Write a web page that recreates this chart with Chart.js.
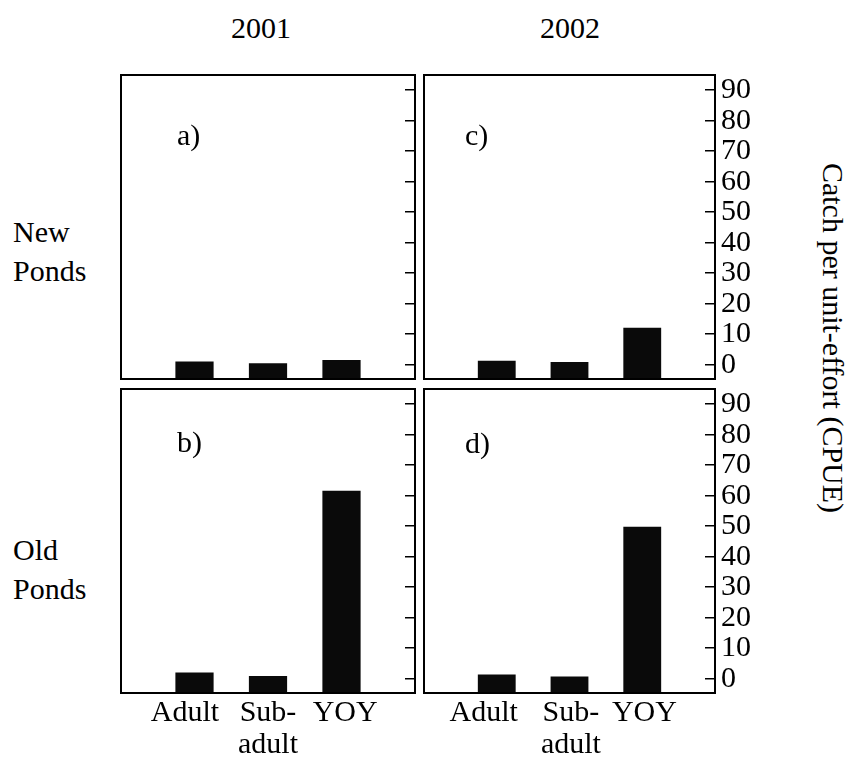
<!DOCTYPE html>
<html>
<head>
<meta charset="utf-8">
<script src="https://cdn.jsdelivr.net/npm/chart.js@4.4.0/dist/chart.umd.min.js"></script>
<style>
  body { margin: 0; background: #fff; width: 851px; height: 763px; position: relative; overflow: hidden;
         font-family: "Liberation Serif", serif; color: #000; }
  .txt { position: absolute; font-size: 30px; line-height: 1; white-space: nowrap; }
  .side { position: absolute; font-size: 30px; line-height: 39px; white-space: nowrap; }
  .panel { position: absolute; }
</style>
</head>
<body>
<div class="txt" style="left:261px;top:13px;transform:translateX(-50%)">2001</div>
<div class="txt" style="left:570px;top:13px;transform:translateX(-50%)">2002</div>
<div class="side" style="left:13px;top:212px">New<br>Ponds</div>
<div class="side" style="left:13px;top:530px">Old<br>Ponds</div>
<div class="txt" style="left:833px;top:338px;transform:translate(-50%,-50%) rotate(90deg)">Catch per unit-effort (CPUE)</div>

<canvas id="chartA" class="panel"></canvas>
<canvas id="chartB" class="panel"></canvas>
<canvas id="chartC" class="panel"></canvas>
<canvas id="chartD" class="panel"></canvas>

<div class="txt" style="left:177px;top:120px">a)</div>
<div class="txt" style="left:177px;top:427px">b)</div>
<div class="txt" style="left:465px;top:120px">c)</div>
<div class="txt" style="left:465px;top:428px">d)</div>

<script>
// data
const categories = ['Adult', 'Sub-adult', 'YOY'];
const categoryLabels = [['Adult'], ['Sub-', 'adult'], ['YOY']];
const categoryPos = [1, 2, 3];
const newPonds2001 = [1.0, 0.5, 1.5];
const newPonds2002 = [1.3, 0.9, 12.1];
const oldPonds2001 = [2.0, 0.9, 61.6];
const oldPonds2002 = [1.4, 0.7, 49.8];
const yTicks = [0, 10, 20, 30, 40, 50, 60, 70, 80, 90];
const yMin = -4.7;
const yMax = 95;

const PAD = 3;
const RIGHT = 52;
const BOTTOM = 72;
const FONT = 'Liberation Serif, serif';

Chart.defaults.font.family = FONT;
Chart.defaults.font.size = 30;
Chart.defaults.color = '#000';

// box around each panel
const framePlugin = {
    id: 'frame',
    afterDatasetsDraw(chart) {
        const { ctx, chartArea: a } = chart;
        ctx.save();
        ctx.strokeStyle = '#000';
        ctx.lineWidth = 2;
        ctx.strokeRect(a.left, a.top, a.right - a.left, a.bottom - a.top);
        ctx.restore();
    }
};

// labelShift: small sideways nudge of the category labels (as in the print)
function makePanel(id, values, left, top, w, h, showX, showY, labelShift) {
    const canvas = document.getElementById(id);
    const cw = PAD + w + (showY ? RIGHT : 0) + PAD;
    const ch = PAD + h + (showX ? BOTTOM : 0) + PAD;
    canvas.width = cw;
    canvas.height = ch;
    canvas.style.left = (left - PAD) + 'px';
    canvas.style.top = (top - PAD) + 'px';
    canvas.style.width = cw + 'px';
    canvas.style.height = ch + 'px';

    new Chart(canvas.getContext('2d'), {
        type: 'bar',
        data: {
            datasets: [{
                label: 'CPUE',
                data: values.map((v, i) => ({ x: categoryPos[i], y: v })),
                backgroundColor: '#0a0a0a',
                base: yMin,
                barPercentage: 0.52,
                categoryPercentage: 1
            }]
        },
        options: {
            responsive: false,
            animation: false,
            devicePixelRatio: 1,
            layout: { padding: PAD },
            plugins: { legend: { display: false }, tooltip: { enabled: false } },
            scales: {
                x: {
                    type: 'linear', min: 0, max: 4, offset: false,
                    grid: { display: false, drawTicks: false },
                    border: { display: false },
                    ticks: {
                        display: showX, padding: 4, maxRotation: 0, autoSkip: false,
                        font: { family: FONT, size: 30, lineHeight: 1.07 },
                        callback: (v, i) => categoryLabels[i] || ''
                    },
                    afterBuildTicks: s => { s.ticks = categoryPos.map((v, i) => ({ value: v + labelShift[i] })); },
                    afterFit: s => { s.height = showX ? BOTTOM : 0; s.paddingLeft = 0; s.paddingRight = 0; }
                },
                y: {
                    position: 'right', min: yMin, max: yMax,
                    grid: { drawOnChartArea: false, drawTicks: true, tickLength: -10, color: '#000', lineWidth: 1.5 },
                    border: { display: false },
                    ticks: {
                        display: showY, padding: 16, autoSkip: false,
                        font: { family: FONT, size: 30 }
                    },
                    afterBuildTicks: s => { s.ticks = yTicks.map(v => ({ value: v })); },
                    afterFit: s => { s.width = showY ? RIGHT : 0; s.paddingTop = 0; s.paddingBottom = 0; }
                }
            }
        },
        plugins: [framePlugin]
    });
}

makePanel('chartA', newPonds2001, 121, 75, 294, 304, false, false, [0, 0, 0]);
makePanel('chartC', newPonds2002, 424, 75, 291, 304, false, true, [0, 0, 0]);
makePanel('chartB', oldPonds2001, 121, 389, 294, 304, true, false, [-0.13, 0, 0.05]);
makePanel('chartD', oldPonds2002, 424, 389, 291, 304, true, true, [-0.18, 0.02, 0.03]);
</script>
</body>
</html>
